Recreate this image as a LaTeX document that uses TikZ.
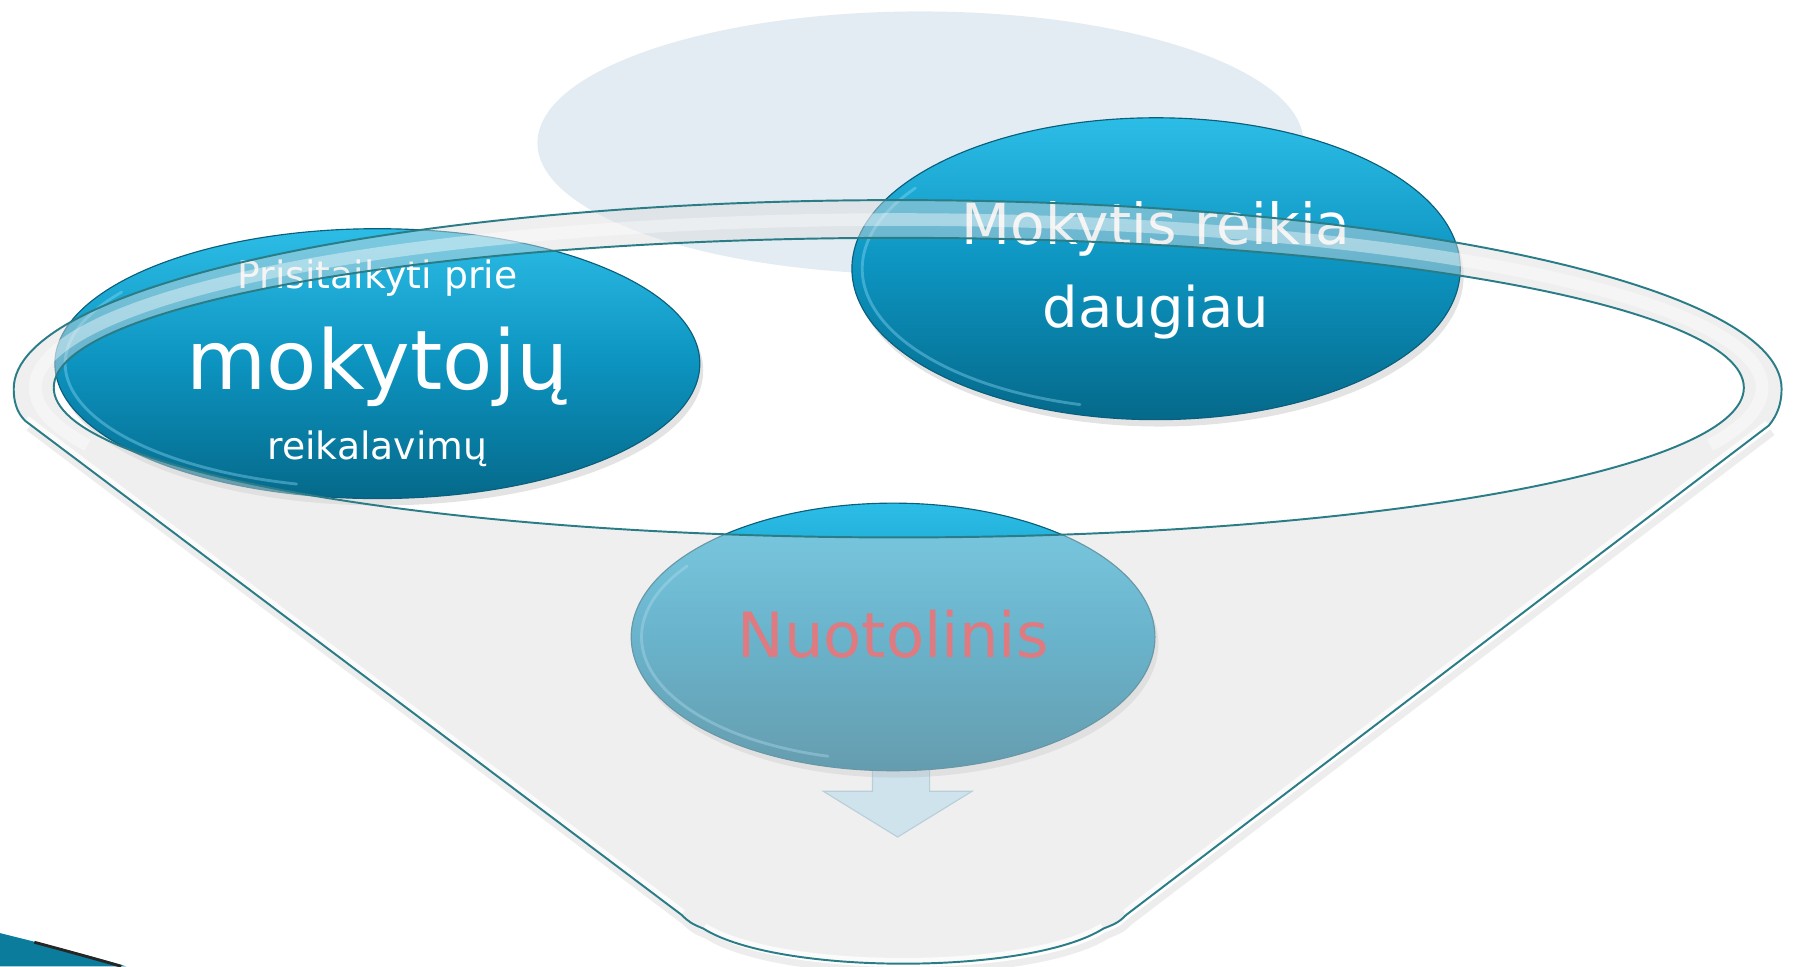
\documentclass[tikz,border=0pt]{standalone}
\usepackage{fontspec}
\setmainfont{DejaVu Sans}
\usetikzlibrary{shapes.geometric,shadows}
\definecolor{paleblue}{HTML}{E3ECF2}
\definecolor{btop}{HTML}{2CBDE6}
\definecolor{bmid}{HTML}{0C93BF}
\definecolor{bbot}{HTML}{05698A}
\definecolor{bborder}{HTML}{0A5F7C}
\definecolor{rimline}{HTML}{2A7C86}
\definecolor{nred}{HTML}{E02A35}
\definecolor{funnelgray}{HTML}{DCDCDC}
\definecolor{arrowfill}{HTML}{C4E9F9}
\definecolor{arrowedge}{HTML}{9CC6DA}
\definecolor{swoosh}{HTML}{0B7C9C}
\tikzset{
  bluebubble/.style={ellipse, draw=bborder, line width=1pt, inner sep=0pt,
    top color=btop, bottom color=bbot, middle color=bmid,
    drop shadow={shadow xshift=3pt, shadow yshift=-6pt, opacity=0.22}},
  glossring/.style={draw=cyan!45!white, line width=2.5pt, opacity=0.4, line cap=round},
  bubbletext/.style={anchor=base, text=white, inner sep=0pt},
  rimstroke/.style={draw=rimline, line width=1.7pt},
}
\begin{document}
\begin{tikzpicture}[x=1pt,y=-1pt]
\useasboundingbox (0,0) rectangle (1568,845);
% pale background ellipse
\fill[paleblue] (805,125) ellipse [x radius=335, y radius=115];
% arrow under the middle bubble
\filldraw[fill=arrowfill, draw=arrowedge, line width=1pt]
  (763,650) -- (813,650) -- (813,692) -- (850,692) -- (785,732) -- (720,692) -- (763,692) -- cycle;
% bubbles
\node[bluebubble, minimum width=564pt, minimum height=236pt] (left) at (330,318) {};
\node[bluebubble, minimum width=532pt, minimum height=264pt] (right) at (1011,235) {};
\node[bluebubble, minimum width=458pt, minimum height=234pt] (mid) at (781,557) {};
\draw[glossring] (left.center) ++(105:273 and 109) arc[start angle=105, end angle=215, x radius=273, y radius=109];
\draw[glossring] (right.center) ++(105:257 and 123) arc[start angle=105, end angle=215, x radius=257, y radius=123];
\draw[glossring] (mid.center) ++(105:220 and 108) arc[start angle=105, end angle=215, x radius=220, y radius=108];
% texts
\node[bubbletext, font=\fontsize{33}{40}\selectfont] (t1) at (330,252) {Prisitaikyti prie};
\node[bubbletext, font=\fontsize{72}{80}\selectfont] (t2) at (330,341) {mokytojų};
\node[bubbletext, font=\fontsize{33}{40}\selectfont] (t3) at (330,402) {reikalavimų};
\node[bubbletext, font=\fontsize{49.5}{56}\selectfont] (t4) at (1011,214) {Mokytis reikia};
\node[bubbletext, font=\fontsize{49}{56}\selectfont] (t5) at (1011,286) {daugiau};
\node[bubbletext, text=nred, font=\fontsize{54.5}{60}\selectfont] (t6) at (781,575) {Nuotolinis};
% soft shadow of the cone
\draw[black, opacity=0.07, line width=6pt, shift={(3,6)}]
  (596,800) -- (22,368) (1547,372) -- (985,800)
  .. controls (978,807) and (975,808) .. (965,812)
  .. controls (900,853) and (680,853) .. (615,812)
  .. controls (605,808) and (602,806) .. (596,800);
% funnel translucent body
\fill[funnelgray, fill opacity=0.45, even odd rule]
  (22,368) .. controls (14,360) and (12,350) .. (12,340)
  arc[start angle=180, end angle=360, x radius=773, y radius=165]
  .. controls (1558,352) and (1555,362) .. (1547,372)
  -- (985,800)
  .. controls (978,807) and (975,808) .. (965,812)
  .. controls (900,853) and (680,853) .. (615,812)
  .. controls (605,808) and (602,806) .. (596,800)
  -- cycle
  (786,339) ellipse [x radius=739, y radius=131];
% glossy white band on the rim
\draw[white, line width=11pt, opacity=0.4]
  (786,339) ++(160:755 and 147) arc[start angle=160, end angle=380, x radius=755, y radius=147];
% white inner edge along cone sides
\begin{scope}
\clip (22,368) .. controls (14,360) and (12,350) .. (12,340)
  arc[start angle=180, end angle=360, x radius=773, y radius=165]
  .. controls (1558,352) and (1555,362) .. (1547,372)
  -- (985,800)
  .. controls (978,807) and (975,808) .. (965,812)
  .. controls (900,853) and (680,853) .. (615,812)
  .. controls (605,808) and (602,806) .. (596,800)
  -- cycle;
\draw[white, line width=10pt, opacity=0.75]
  (596,800) -- (22,368) (1547,372) -- (985,800)
  (965,812) .. controls (900,853) and (680,853) .. (615,812);
\end{scope}
% funnel outlines
\draw[rimstroke]
  (22,368) .. controls (14,360) and (12,350) .. (12,340)
  arc[start angle=180, end angle=360, x radius=773, y radius=165]
  .. controls (1558,352) and (1555,362) .. (1547,372)
  -- (985,800)
  .. controls (978,807) and (975,808) .. (965,812)
  .. controls (900,853) and (680,853) .. (615,812)
  .. controls (605,808) and (602,806) .. (596,800)
  -- cycle;
\draw[rimstroke] (786,339) ellipse [x radius=739, y radius=131];
% bottom-left swoosh
\fill[swoosh] (0,816) .. controls (40,826) and (80,836) .. (110,845) -- (0,845) -- cycle;
\draw[black!85, line width=2.5pt] (30,824) .. controls (60,832) and (85,839) .. (106,845);
\end{tikzpicture}
\end{document}
